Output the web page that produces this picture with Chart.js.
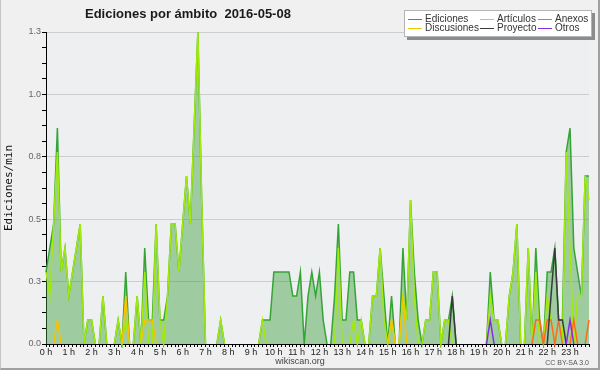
<!DOCTYPE html>
<html lang="es">
<head>
<meta charset="UTF-8" />
<title>Ediciones por ámbito 2016-05-08</title>
<script src="https://cdn.jsdelivr.net/npm/chart.js"></script>
<style>
  body { margin: 0; background: #f0f0f0; }
  #wrap { position: relative; width: 600px; height: 370px; overflow: hidden; }
  #chart { position: absolute; left: 0; top: 0; }
  #title { position: absolute; left: 85px; top: 6px; font: bold 13px/15px "Liberation Sans", Arial, sans-serif; color: #1a1a1a; white-space: pre; }
  #legend { position: absolute; left: 404px; top: 10px; width: 186px; height: 25px; background: #fff; border: 1px solid #b4b4b4; box-shadow: 3px 3px 0 #8c8c8c; }
  .item { position: absolute; font: 10px/10px "Liberation Sans", Arial, sans-serif; color: #333; white-space: nowrap; }
  .item i { display: inline-block; width: 14px; height: 0; border-top: 1px solid; vertical-align: middle; margin-right: 3px; }
  #site { position: absolute; left: 0; width: 600px; top: 356px; text-align: center; font: 9px/11px "Liberation Sans", Arial, sans-serif; color: #444; }
  #lic { position: absolute; right: 11px; top: 359px; font: 7px/8px "Liberation Sans", Arial, sans-serif; color: #555; }
  #frame { position: absolute; left: 0; top: 0; width: 600px; height: 370px; box-sizing: border-box; border-left: 1px solid #c4c4c4; border-right: 2px solid #a0a0a0; border-bottom: 2px solid #a0a0a0; pointer-events: none; }
</style>
</head>
<body>
<div id="wrap">
  <canvas id="chart" width="600" height="370"></canvas>
  <div id="title">Ediciones por ámbito  2016-05-08</div>
  <div id="legend"></div>
  <div id="site">wikiscan.org</div>
  <div id="lic">CC BY-SA 3.0</div>
  <div id="frame"></div>
</div>
<script>
  // one value every 10 minutes, in edits per minute
  const hourLabels = ["0 h", "1 h", "2 h", "3 h", "4 h", "5 h", "6 h", "7 h", "8 h", "9 h", "10 h", "11 h",
    "12 h", "13 h", "14 h", "15 h", "16 h", "17 h", "18 h", "19 h", "20 h", "21 h", "22 h", "23 h"];
  const yTickLabels = ["0.0", "0.3", "0.5", "0.8", "1.0", "1.3"];

  const ediciones = [
    0.3, 0.4, 0.5, 0.9, 0.3, 0.4,   0.2, 0.3, 0.4, 0.5, 0, 0.1,
    0.1, 0, 0, 0.2, 0, 0,           0, 0.1, 0, 0.3, 0, 0,
    0.2, 0, 0.4, 0.1, 0.1, 0.5,     0.1, 0.1, 0.2, 0.5, 0.5, 0.3,
    0.5, 0.7, 0.5, 0.9, 1.3, 0.6,   0, 0, 0, 0, 0.1, 0,
    0, 0, 0, 0, 0, 0,               0, 0, 0, 0.1, 0.1, 0.1,
    0.3, 0.3, 0.3, 0.3, 0.3, 0.2,   0.2, 0.3, 0, 0.2, 0.3, 0.2,
    0.3, 0.1, 0, 0, 0.2, 0.5,       0.1, 0.1, 0.3, 0.3, 0.1, 0.1,
    0, 0, 0.2, 0.2, 0.4, 0.2,       0, 0.2, 0, 0, 0.4, 0.1,
    0.6, 0.3, 0.1, 0, 0.1, 0.1,     0.3, 0.3, 0, 0.1, 0.1, 0.2,
    0, 0, 0, 0, 0, 0,               0, 0, 0, 0.3, 0.1, 0.1,
    0, 0, 0.2, 0.3, 0.5, 0,         0, 0.4, 0, 0.4, 0.1, 0,
    0.3, 0.3, 0.4, 0.1, 0.1, 0.8,   0.9, 0.4, 0.3, 0.2, 0.7, 0.7
  ];
  const articulos = [
    0.3, 0.2, 0.5, 0.8, 0.3, 0.4,   0.2, 0.3, 0.4, 0.5, 0, 0.1,
    0.1, 0, 0, 0.2, 0, 0,           0, 0.1, 0, 0.1, 0, 0,
    0.2, 0, 0.3, 0, 0, 0.5,         0.1, 0, 0.2, 0.5, 0.5, 0.3,
    0.5, 0.7, 0.5, 0.9, 1.3, 0.6,   0, 0, 0, 0, 0.1, 0,
    0, 0, 0, 0, 0, 0,               0, 0, 0, 0.1, 0, 0,
    0, 0, 0, 0, 0, 0,               0, 0, 0, 0, 0, 0,
    0, 0, 0, 0, 0, 0.4,             0, 0, 0, 0.1, 0, 0.1,
    0, 0, 0.2, 0.2, 0.4, 0.1,       0, 0.1, 0, 0, 0.2, 0.1,
    0.6, 0.2, 0, 0, 0.1, 0.1,       0.3, 0.3, 0, 0.1, 0.1, 0,
    0, 0, 0, 0, 0, 0,               0, 0, 0, 0.2, 0.1, 0.1,
    0, 0, 0.2, 0.3, 0.5, 0,         0, 0.4, 0, 0.3, 0, 0,
    0.2, 0.1, 0, 0, 0, 0.8,         0.4, 0, 0.2, 0.2, 0.7, 0.6
  ];
  const anexos = [
    0, 0, 0, 0, 0, 0,   0, 0, 0, 0, 0, 0,
    0, 0, 0, 0, 0, 0,   0, 0, 0, 0, 0, 0,
    0, 0, 0, 0, 0, 0,   0, 0, 0, 0, 0, 0,
    0, 0, 0, 0, 0, 0,   0, 0, 0, 0, 0, 0,
    0, 0, 0, 0, 0, 0,   0, 0, 0, 0, 0, 0,
    0, 0, 0, 0, 0, 0,   0, 0, 0, 0, 0, 0,
    0, 0, 0, 0, 0, 0,   0, 0, 0, 0, 0, 0,
    0, 0, 0, 0, 0, 0,   0, 0, 0, 0, 0, 0,
    0, 0, 0, 0, 0, 0,   0, 0, 0, 0, 0, 0,
    0, 0, 0, 0, 0, 0,   0, 0, 0, 0, 0, 0,
    0, 0, 0, 0, 0, 0,   0, 0, 0, 0.1, 0.1, 0,
    0.1, 0.1, 0, 0.1, 0, 0,   0, 0.1, 0, 0, 0, 0.1
  ];
  const discusiones = [
    0, 0, 0, 0.1, 0, 0,   0, 0, 0, 0, 0, 0,
    0, 0, 0, 0, 0, 0,     0, 0, 0, 0.2, 0, 0,
    0, 0, 0.1, 0.1, 0.1, 0,   0, 0, 0, 0, 0, 0,
    0, 0, 0, 0, 0, 0,     0, 0, 0, 0, 0, 0,
    0, 0, 0, 0, 0, 0,     0, 0, 0, 0, 0, 0,
    0, 0, 0, 0, 0, 0,     0, 0, 0, 0, 0, 0,
    0, 0, 0, 0, 0, 0,     0, 0, 0, 0, 0, 0,
    0, 0, 0, 0, 0, 0,     0, 0.1, 0, 0, 0.2, 0,
    0, 0, 0, 0, 0, 0,     0, 0, 0, 0, 0, 0,
    0, 0, 0, 0, 0, 0,     0, 0, 0, 0, 0, 0,
    0, 0, 0, 0, 0, 0,     0, 0, 0, 0, 0, 0,
    0, 0, 0, 0, 0, 0,     0, 0.1, 0, 0, 0, 0
  ];
  const proyecto = [
    0, 0, 0, 0, 0, 0,   0, 0, 0, 0, 0, 0,
    0, 0, 0, 0, 0, 0,   0, 0, 0, 0, 0, 0,
    0, 0, 0, 0, 0, 0,   0, 0, 0, 0, 0, 0,
    0, 0, 0, 0, 0, 0,   0, 0, 0, 0, 0, 0,
    0, 0, 0, 0, 0, 0,   0, 0, 0, 0, 0, 0,
    0, 0, 0, 0, 0, 0,   0, 0, 0, 0, 0, 0,
    0, 0, 0, 0, 0, 0,   0, 0, 0, 0, 0, 0,
    0, 0, 0, 0, 0, 0,   0, 0, 0, 0, 0, 0,
    0, 0, 0, 0, 0, 0,   0, 0, 0, 0, 0, 0.2,
    0, 0, 0, 0, 0, 0,   0, 0, 0, 0, 0, 0,
    0, 0, 0, 0, 0, 0,   0, 0, 0, 0, 0, 0,
    0, 0.2, 0.4, 0.1, 0.1, 0,   0, 0, 0, 0, 0, 0
  ];
  const otros = [
    0, 0, 0, 0, 0, 0,   0, 0, 0, 0, 0, 0,
    0, 0, 0, 0, 0, 0,   0, 0, 0, 0, 0, 0,
    0, 0, 0, 0, 0, 0,   0, 0, 0, 0, 0, 0,
    0, 0, 0, 0, 0, 0,   0, 0, 0, 0, 0, 0,
    0, 0, 0, 0, 0, 0,   0, 0, 0, 0, 0, 0,
    0, 0, 0, 0, 0, 0,   0, 0, 0, 0, 0, 0,
    0, 0, 0, 0, 0, 0,   0, 0, 0, 0, 0, 0,
    0, 0, 0, 0, 0, 0,   0, 0, 0, 0, 0, 0,
    0, 0, 0, 0, 0, 0,   0, 0, 0, 0, 0, 0,
    0, 0, 0, 0, 0, 0,   0, 0, 0, 0.1, 0, 0,
    0, 0, 0, 0, 0, 0,   0, 0, 0, 0, 0, 0,
    0, 0, 0, 0, 0, 0,   0.1, 0, 0, 0, 0, 0
  ];

  // 6 bins per hour, label only on the hour
  const binLabels = ediciones.map((v, i) => (i % 6 === 0 ? hourLabels[i / 6] : ""));

  const font = "'Liberation Sans', Arial, sans-serif";

  // chart area background
  const plotBg = {
    id: "plotBg",
    beforeDraw(chart) {
      const { ctx, chartArea: a } = chart;
      ctx.save();
      ctx.fillStyle = "#eeeff1";
      ctx.fillRect(a.left, a.top, a.right - a.left, a.bottom - a.top);
      ctx.restore();
    },
  };

  const series = [
    { label: "Ediciones", data: ediciones, color: "#34a534", legendPos: [0, 0] },
    { label: "Discusiones", data: discusiones, color: "#f5c400", legendPos: [0, 1] },
    { label: "Artículos", data: articulos, color: "#a2ea0c", legendPos: [1, 0] },
    { label: "Proyecto", data: proyecto, color: "#3a3a3a", legendPos: [1, 1] },
    { label: "Anexos", data: anexos, color: "#ff6a1a", legendPos: [2, 0] },
    { label: "Otros", data: otros, color: "#8a2be2", legendPos: [2, 1] },
  ];

  const drawOrder = { Ediciones: 10, Artículos: 9, Discusiones: 5, Anexos: 4, Proyecto: 3, Otros: 2 };

  // don't draw the flat stretches sitting on the x axis
  const hideFlatZero = (c) => (c.p0.parsed.y === 0 && c.p1.parsed.y === 0 ? "rgba(0,0,0,0)" : undefined);

  const datasets = series.map((s) => ({
    label: s.label,
    data: s.data,
    borderColor: s.color,
    backgroundColor: s.label === "Ediciones" ? "rgba(60,160,60,0.45)" : s.color,
    fill: s.label === "Ediciones" ? "origin" : false,
    borderWidth: 1.5,
    pointRadius: 0,
    tension: 0,
    clip: 4,
    order: drawOrder[s.label],
    segment: { borderColor: hideFlatZero },
  }));

  new Chart(document.getElementById("chart"), {
    type: "line",
    data: { labels: binLabels, datasets: datasets },
    options: {
      responsive: false,
      animation: false,
      devicePixelRatio: 1,
      layout: { padding: { top: 32, right: 11, left: 0, bottom: 0 } },
      plugins: { legend: { display: false }, tooltip: { enabled: false } },
      scales: {
        x: {
          type: "category",
          offset: false,
          z: 1,
          grid: { drawOnChartArea: false, drawTicks: true, tickLength: 3, tickColor: "#000", offset: false },
          border: { color: "#000", width: 1 },
          ticks: { autoSkip: false, maxRotation: 0, minRotation: 0, padding: 0, color: "#222", font: { family: font, size: 9 } },
          afterFit(scale) { scale.height = 26; },
        },
        y: {
          min: 0,
          max: 1.3,
          afterBuildTicks(scale) {
            const t = [];
            for (let k = 0; k <= 20; k++) t.push({ value: (k * 1.3) / 20 });
            scale.ticks = t;
          },
          grid: {
            color: (c) => (c.index % 4 === 0 ? "#cdcdcd" : "rgba(0,0,0,0)"),
            tickColor: "#000",
            tickLength: 4,
          },
          border: { color: "#000", width: 1 },
          ticks: {
            padding: 1,
            color: "#666",
            font: { family: font, size: 9 },
            callback: (v, i) => (i % 4 === 0 ? yTickLabels[i / 4] : ""),
          },
          title: {
            display: true,
            text: "Ediciones/min",
            color: "#111",
            font: { family: "'DejaVu Sans Mono', monospace", size: 11 },
            padding: { top: 3, bottom: 0 },
          },
          afterFit(scale) { scale.width = 46; },
        },
      },
    },
    plugins: [plotBg],
  });

  // legend box, 3 columns x 2 rows
  const legendEl = document.getElementById("legend");
  const colX = [3, 75, 133];
  const rowY = [3, 12];
  series.forEach((s) => {
    const d = document.createElement("div");
    d.className = "item";
    d.style.left = colX[s.legendPos[0]] + "px";
    d.style.top = rowY[s.legendPos[1]] + "px";
    d.innerHTML = '<i style="border-color:' + s.color + '"></i>' + s.label;
    legendEl.appendChild(d);
  });
</script>
</body>
</html>
